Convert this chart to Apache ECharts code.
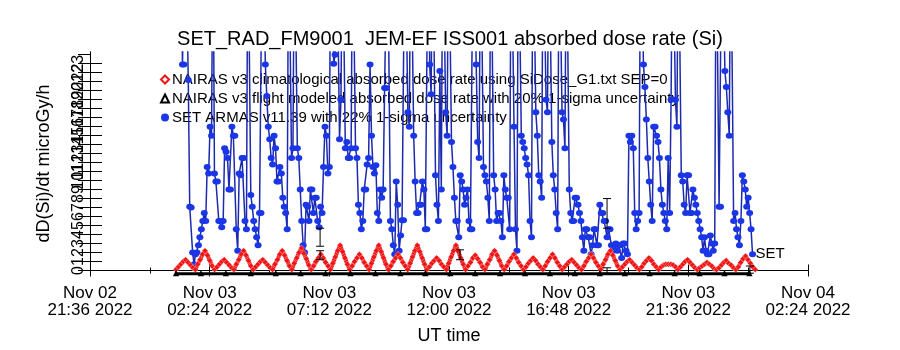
<!DOCTYPE html>
<html>
<head>
<meta charset="utf-8">
<script src="https://cdn.jsdelivr.net/npm/echarts@6/dist/echarts.min.js"></script>
<style>
  html, body { margin: 0; padding: 0; background: #fff; }
  #chart { width: 900px; height: 350px; }
</style>
</head>
<body>
<div id="chart"></div>
<script>
// x values are hours after Nov 02 21:36 UT
var xTickLabels = ['Nov 02\n21:36 2022', 'Nov 03\n02:24 2022', 'Nov 03\n07:12 2022', 'Nov 03\n12:00 2022',
                   'Nov 03\n16:48 2022', 'Nov 03\n21:36 2022', 'Nov 04\n02:24 2022'];
var yTickValues = [0, 1, 2, 3, 4, 5, 6, 7, 8, 9, 10, 11, 12, 13, 14, 15, 16, 17, 18, 19, 20, 21, 22, 23, 24];

// NAIRAS v3 climatological, one sample every ~5.8 min
var climStart = 3.45, climStep = 0.0968;
var nairasClim = [
  0.1,0.4,0.7,1.0,1.2,0.9,0.6,0.3,  0.1,0.7,1.2,1.8,2.2,1.7,1.1,0.5,
  0.1,0.4,0.7,1.0,1.2,0.9,0.6,0.3,  0.1,0.7,1.2,1.8,2.2,1.7,1.1,0.5,
  0.1,0.4,0.7,1.0,1.2,0.9,0.6,0.3,  0.1,0.7,1.2,1.8,2.2,1.7,1.1,0.5,
  0.1,0.8,1.4,2.0,2.5,1.9,1.3,0.6,  0.1,0.5,1.0,1.4,1.8,1.4,0.9,0.5,
  0.1,0.8,1.5,2.2,2.8,2.1,1.4,0.7,  0.1,0.5,1.0,1.4,1.8,1.4,0.9,0.5,
  0.1,0.8,1.5,2.2,2.8,2.1,1.4,0.7,  0.1,0.5,1.0,1.4,1.8,1.4,0.9,0.5,
  0.1,0.8,1.5,2.2,2.8,2.1,1.4,0.7,  0.1,0.4,0.8,1.1,1.4,1.1,0.7,0.4,
  0.1,0.8,1.5,2.2,2.8,2.1,1.4,0.7,  0.1,0.5,0.9,1.4,1.7,1.3,0.9,0.4,
  0.1,0.7,1.2,1.8,2.2,1.7,1.1,0.5,  0.1,0.5,1.0,1.4,1.8,1.4,0.9,0.5,
  0.1,0.4,0.8,1.1,1.4,1.1,0.7,0.4,  0.1,0.5,1.0,1.4,1.8,1.4,0.9,0.5,
  0.1,0.4,0.7,1.0,1.2,0.9,0.6,0.3,  0.1,0.5,1.0,1.4,1.8,1.4,0.9,0.5,
  0.1,0.7,1.2,1.8,2.2,1.7,1.1,0.5,  0.1,0.4,0.7,1.0,1.2,0.9,0.6,0.3,
  0.1,0.4,0.8,1.1,1.4,1.1,0.7,0.4,  0.1,0.4,0.6,0.7,0.7,0.7,0.6,0.4,
  0.1,0.4,0.7,1.0,1.2,0.9,0.6,0.3,  0.1,0.3,0.5,0.7,0.9,0.7,0.5,0.2,
  0.1,0.3,0.6,0.9,1.1,0.8,0.6,0.3,  0.1,0.4,0.9,1.3,1.6,1.2,0.8,0.4,
  0.1
];

// NAIRAS v3 flight modeled, hourly
var flightStart = 3.45, flightStep = 1;
var nairasFlight = [-0.35,-0.35,-0.35,-0.35,-0.35,-0.35,-0.35,-0.35,-0.35,-0.35,-0.35,-0.35,
                    -0.35,-0.35,-0.35,-0.35,-0.35,-0.35,-0.35,-0.35,-0.35,-0.35,-0.35,-0.35];

// SET ARMAS v11.39, one sample every 3.5 min (values above 24 run off the top)
var armasStart = 3.65, armasStep = 3.5 / 60;
var armasSet = [
  40, 22.9, 22.9, 40, 40, 21.2, 7.1, 7.0, 2.0, 0.7,
  1.8, 2.0, 2.8, 3.7, 4.6, 5.5, 6.4, 5.5, 11.5, 10.8,
  16.0, 15.0, 40, 10.8, 9.9, 9.9, 5.5, 5.5, 4.8, 5.5,
  13.6, 13.2, 12.5, 9.0, 9.0, 16.0, 15.0, 15.0, 4.6, 2.2,
  10.8, 10.6, 12.5, 12.5, 5.5, 4.6, 40, 40, 8.4, 7.1,
  5.5, 4.6, 3.7, 2.8, 6.4, 6.4, 40, 40, 22.9, 19.4,
  16.0, 14.6, 12.5, 11.8, 15.0, 13.6, 9.9, 9.9, 11.5, 10.8,
  8.1, 7.1, 6.4, 4.6, 40, 40, 12.5, 13.6, 40, 40,
  13.6, 12.5, 9.0, 5.5, 2.8, 2.0, 7.3, 7.1, 5.5, 9.0,
  9.0, 6.4, 8.1, 8.1, 5.5, 4.8, 7.1, 6.4, 11.5, 16.0,
  15.0, 10.8, 11.5, 40, 40, 23.0, 24.0, 40, 40, 14.6,
  19.0, 40, 40, 13.6, 14.3, 12.5, 12.5, 13.6, 40, 40,
  13.6, 12.5, 7.3, 6.4, 4.6, 5.5, 9.0, 9.0, 11.8, 12.5,
  22.9, 15.0, 11.5, 10.8, 11.7, 6.4, 5.5, 9.0, 8.1, 9.0,
  20.3, 20.3, 40, 40, 5.5, 4.6, 2.8, 1.8, 9.9, 7.3,
  2.2, 3.9, 5.6, 5.6, 40, 40, 17.6, 16.0, 40, 40,
  15.0, 9.9, 6.4, 6.4, 7.3, 7.3, 9.9, 9.0, 4.6, 4.6,
  40, 22.9, 19.6, 40, 40, 10.6, 7.3, 5.5, 22.2, 9.0,
  40, 40, 17.6, 15.0, 40, 40, 14.3, 11.5, 8.1, 5.5,
  5.5, 3.7, 10.6, 9.9, 9.0, 7.3, 8.1, 9.0, 5.5, 4.6,
  4.6, 40, 40, 22.9, 14.3, 12.5, 40, 40, 11.5, 10.6,
  9.9, 8.1, 5.5, 40, 40, 10.6, 9.0, 5.5, 6.4, 6.4,
  5.5, 3.7, 10.6, 9.0, 8.1, 8.1, 4.6, 40, 40, 16.0,
  4.6, 2.2, 40, 40, 15.0, 14.3, 13.6, 12.5, 11.8, 10.6,
  5.5, 3.7, 40, 40, 17.6, 15.0, 10.6, 9.9, 8.1, 40,
  40, 19.0, 17.6, 40, 40, 14.3, 10.6, 9.0, 6.4, 4.6,
  40, 40, 17.6, 16.8, 13.6, 40, 40, 9.0, 6.4, 5.5,
  5.5, 8.1, 8.1, 7.3, 6.4, 5.5, 3.7, 2.2, 4.6, 4.6,
  3.7, 3.7, 1.8, 2.8, 4.6, 4.6, 2.8, 2.8, 7.3, 6.4,
  6.4, 5.5, 5.5, 3.7, 4.6, 4.6, 2.8, 2.2, 2.8, 3.0,
  2.2, 2.8, 2.8, 1.4, 3.0, 3.0, 2.2, 1.8, 15.0, 14.3,
  15.0, 13.6, 6.4, 4.6, 5.5, 6.4, 40, 40, 22.9, 20.4,
  16.8, 12.5, 9.9, 7.3, 5.5, 16.0, 16.0, 15.0, 14.3, 12.5,
  9.0, 7.3, 6.4, 5.5, 4.6, 12.5, 6.4, 19.0, 40, 40,
  19.0, 16.0, 40, 40, 10.6, 9.9, 7.3, 6.4, 10.6, 10.6,
  6.4, 6.4, 9.0, 8.1, 7.3, 6.4, 5.5, 4.6, 3.7, 2.2,
  3.7, 2.2, 1.8, 1.8, 3.9, 3.0, 2.2, 3.0, 40, 40,
  7.1, 7.1, 40, 40, 22.2, 20.4, 17.6, 15.0, 40, 40,
  5.5, 6.4, 4.6, 3.7, 2.8, 5.5, 10.6, 9.9, 9.0, 7.1,
  8.1, 6.4, 4.6, 1.8
];

// [hour, low, high] uncertainty bars
var errBars = [[9.23, 2.7, 4.7], [9.23, 1.2, 2.2], [14.84, 1.2, 2.3],
               [20.74, 4.7, 8.0], [20.74, -0.3, 0.3], [26.47, -0.3, 0.5]];

function toPairs(start, step, vals) {
  var out = [];
  for (var i = 0; i < vals.length; i++) out.push([start + i * step, vals[i]]);
  return out;
}

function renderErr(params, api) {
  var x = api.value(0);
  var lo = api.coord([x, api.value(1)]);
  var hi = api.coord([x, api.value(2)]);
  var st = { stroke: '#000', lineWidth: 1 };
  return {
    type: 'group',
    children: [
      { type: 'line', shape: { x1: lo[0], y1: lo[1], x2: hi[0], y2: hi[1] }, style: st },
      { type: 'line', shape: { x1: lo[0] - 4, y1: lo[1], x2: lo[0] + 4, y2: lo[1] }, style: st },
      { type: 'line', shape: { x1: hi[0] - 4, y1: hi[1], x2: hi[0] + 4, y2: hi[1] }, style: st }
    ]
  };
}

var chart = echarts.init(document.getElementById('chart'));
var font = 'Liberation Sans';
var black = { color: '#000', width: 1 };

chart.setOption({
  animation: false,
  textStyle: { fontFamily: font, color: '#000' },
  title: {
    text: 'SET_RAD_FM9001  JEM-EF ISS001 absorbed dose rate (Si)',
    left: 'center', top: 24,
    textStyle: { fontFamily: font, fontSize: 20, fontWeight: 'normal', color: '#000' }
  },
  legend: {
    orient: 'vertical', left: 160, top: 72, itemGap: 4, itemWidth: 8, itemHeight: 8, z: 1,
    padding: 0,
    textStyle: { fontFamily: font, fontSize: 15, color: '#000', padding: [0, 0, 0, -2] },
    data: [
      { name: 'NAIRAS v3 climatological absorbed dose rate using SiDose_G1.txt SEP=0',
        icon: 'emptyDiamond', itemStyle: { color: '#f01414', borderColor: '#f01414', borderWidth: 1 } },
      { name: 'NAIRAS v3 flight modeled absorbed dose rate with 20% 1-sigma uncertainty', icon: 'emptyTriangle' },
      { name: 'SET ARMAS v11.39 with 22% 1-sigma uncertainty', icon: 'circle' }
    ]
  },
  grid: { left: 90, right: 92, top: 52, bottom: 72 },
  xAxis: [{
    type: 'value', min: 0, max: 28.8, interval: 4.8, position: 'bottom',
    axisLine: { lineStyle: black },
    axisTick: { inside: true, length: 6, lineStyle: black },
    minorTick: { show: true, splitNumber: 2, length: 3, lineStyle: black },
    splitLine: { show: false },
    axisLabel: {
      margin: 10, fontSize: 17, lineHeight: 17, color: '#000', fontFamily: font,
      formatter: function (v) { return xTickLabels[Math.round(v / 4.8)]; }
    },
    name: 'UT time', nameLocation: 'middle', nameGap: 52,
    nameTextStyle: { fontSize: 18, color: '#000', fontFamily: font }
  }, {
    type: 'value', min: 0, max: 28.8, interval: 4.8, position: 'top',
    axisLine: { lineStyle: black },
    axisTick: { inside: true, length: 6, lineStyle: black },
    minorTick: { show: true, splitNumber: 2, length: 3, lineStyle: black },
    splitLine: { show: false },
    axisLabel: { show: false }
  }],
  yAxis: [{
    type: 'value', min: -0.5, max: 24.3, position: 'left',
    axisLine: { show: true, lineStyle: black },
    axisTick: { show: true, inside: true, length: 12, lineStyle: black, customValues: yTickValues },
    splitLine: { show: false },
    axisLabel: { customValues: yTickValues, rotate: 90, fontSize: 16, margin: 3, color: '#000', fontFamily: font },
    name: 'dD(Si)/dt microGy/h', nameLocation: 'middle', nameGap: 37,
    nameTextStyle: { fontSize: 18, color: '#000', fontFamily: font }
  }, {
    type: 'value', min: -0.5, max: 24.3, position: 'right',
    axisLine: { show: true, lineStyle: black },
    axisTick: { show: true, inside: true, length: 12, lineStyle: black, customValues: yTickValues },
    splitLine: { show: false },
    axisLabel: { show: false }
  }],
  series: [{
    name: 'SET ARMAS v11.39 with 22% 1-sigma uncertainty',
    type: 'line', z: 2,
    data: toPairs(armasStart, armasStep, armasSet),
    symbol: 'circle', symbolSize: [7, 6],
    itemStyle: { color: '#1a36e6' },
    lineStyle: { color: '#1c2aae', width: 1.5 },
    endLabel: { show: true, formatter: 'SET', color: '#000', fontSize: 15, fontFamily: font, distance: 3 }
  }, {
    name: 'NAIRAS v3 climatological absorbed dose rate using SiDose_G1.txt SEP=0',
    type: 'line', z: 3,
    data: toPairs(climStart, climStep, nairasClim),
    symbol: 'diamond', symbolSize: 6,
    itemStyle: { color: '#f01414', borderColor: 'rgba(255,255,255,0.6)', borderWidth: 0.6 },
    lineStyle: { color: '#f01414', width: 4 }
  }, {
    name: 'NAIRAS v3 flight modeled absorbed dose rate with 20% 1-sigma uncertainty',
    type: 'line', z: 4,
    data: toPairs(flightStart, flightStep, nairasFlight),
    symbol: 'emptyTriangle', symbolSize: 3,
    itemStyle: { color: '#000', borderColor: '#000' },
    lineStyle: { color: '#000', width: 3 }
  }, {
    name: 'errors', type: 'custom', z: 5,
    renderItem: renderErr,
    encode: { x: 0, y: [1, 2] },
    data: errBars
  }]
});
</script>
</body>
</html>
